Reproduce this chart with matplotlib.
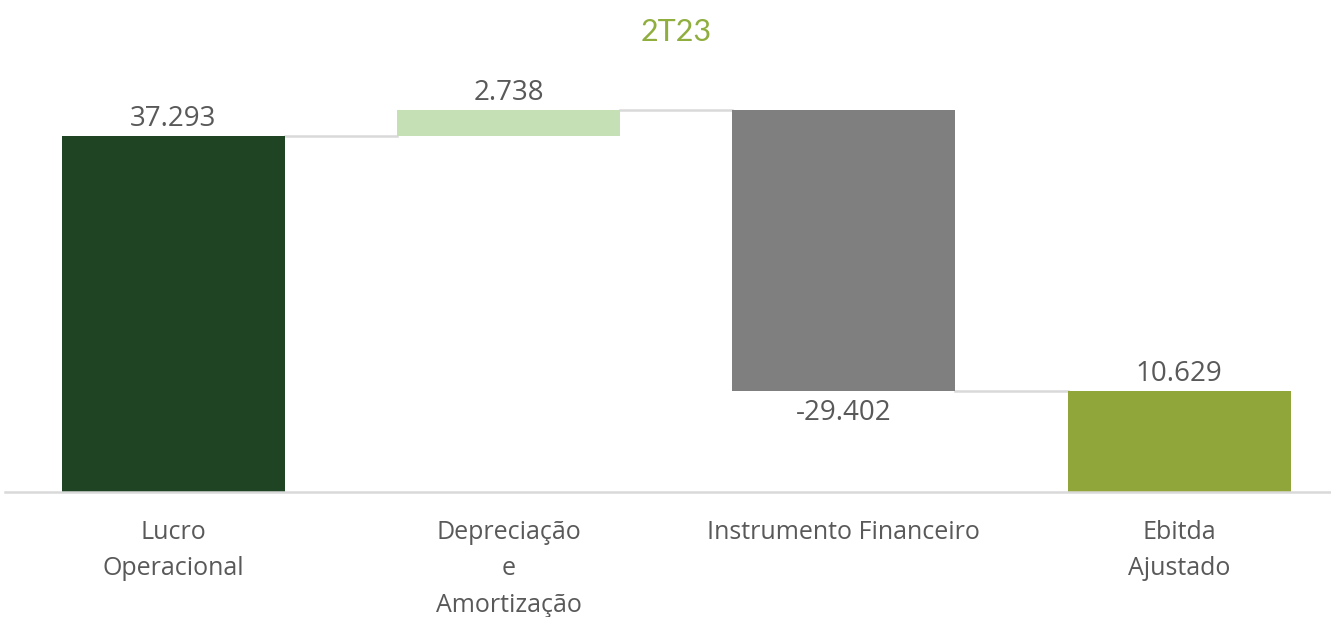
import matplotlib.pyplot as plt

# waterfall data (values in R$ mil, shown with Brazilian thousand separator)
categories = ['Lucro\nOperacional', 'Depreciação\ne\nAmortização', 'Instrumento Financeiro', 'Ebitda\nAjustado']
values = [37.293, 2.738, -29.402, 10.629]
is_total = [True, False, False, True]
colors = ['#1f4423', '#c5e0b4', '#7f7f7f', '#91a63a']
title = '2T23'

plt.rcParams['font.family'] = ['Open Sans', 'DejaVu Sans']
text_color = '#595959'

fig = plt.figure(figsize=(13.31, 6.17), dpi=100)
ax = fig.add_axes([5 / 1331, 1 - 492 / 617, 1326 / 1331, 432 / 617])

# compute bar bottoms / tops
bottoms, tops = [], []
running = 0.0
for v, tot in zip(values, is_total):
    if tot:
        bottoms.append(0.0)
        tops.append(v)
        running = v
    else:
        bottoms.append(running)
        running += v
        tops.append(running)

x = list(range(len(values)))
width = 0.665
heights = [t - b for b, t in zip(bottoms, tops)]
ax.bar(x, heights, bottom=bottoms, width=width, color=colors, zorder=3)

# connector lines between bars
for i in range(len(values) - 1):
    level = tops[i]
    ax.plot([x[i] + width / 2, x[i + 1] - width / 2], [level, level],
            color='#d9d9d9', lw=1.8, zorder=2)

# value labels
for i, v in enumerate(values):
    label = f'{v:.3f}'
    if v < 0:
        ax.annotate(label, (x[i], tops[i]), xytext=(0, -6), textcoords='offset points',
                    ha='center', va='top', fontsize=20, color=text_color)
    else:
        ax.annotate(label, (x[i], max(tops[i], bottoms[i])), xytext=(0, 2), textcoords='offset points',
                    ha='center', va='bottom', fontsize=20, color=text_color)

ax.axhline(0, color='#d9d9d9', lw=1.8, zorder=4, clip_on=False)

ax.set_xlim(-0.5025, 3.453)
ax.set_ylim(0, 45.25)
ax.set_xticks(x)
ax.set_xticklabels(categories, fontsize=18, color=text_color, linespacing=1.6)
ax.tick_params(axis='x', length=0, pad=20)
ax.set_yticks([])
for s in ax.spines.values():
    s.set_visible(False)

fig.text(676 / 1331, 1 - 32 / 617, title, ha='center', va='center', fontsize=22,
         color='#8fae3e', family=['Lato', 'DejaVu Sans'])

fig.savefig('out.png', dpi=100)
